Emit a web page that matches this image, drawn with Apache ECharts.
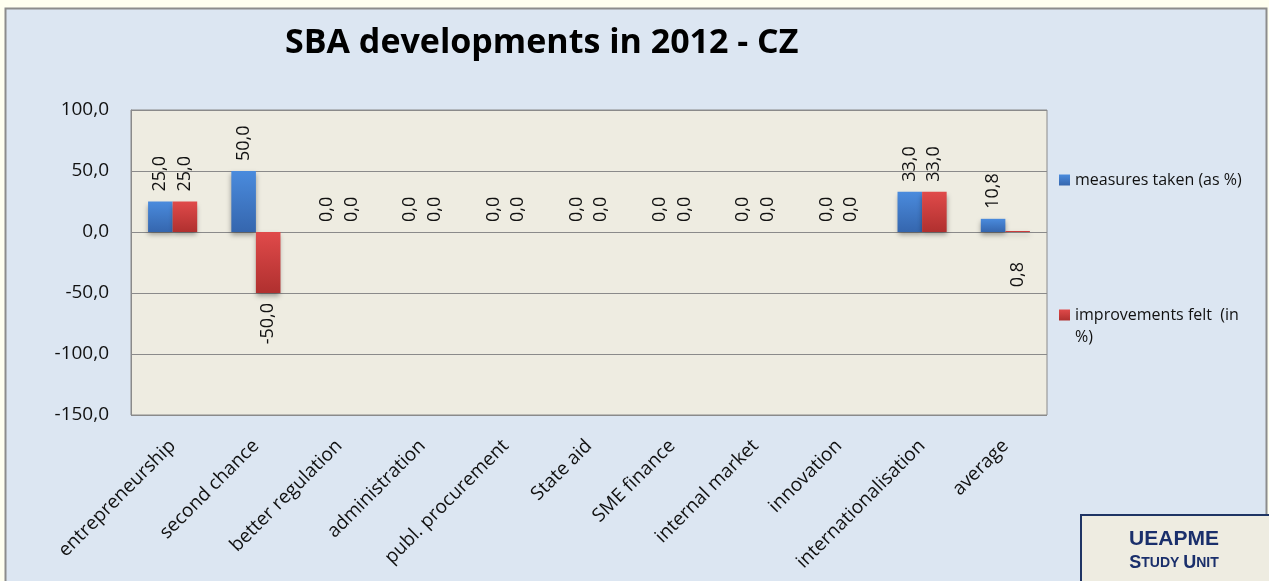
<!DOCTYPE html>
<html>
<head>
<meta charset="utf-8">
<script src="https://cdn.jsdelivr.net/npm/echarts@6/dist/echarts.min.js"></script>
<style>
  html, body { margin: 0; padding: 0; background: #FFFFF0; }
  #chart { width: 1269px; height: 581px; }
</style>
</head>
<body>
<div id="chart"></div>
<script>
const categories = [
  "entrepreneurship", "second chance", "better regulation", "administration",
  "publ. procurement", "State aid", "SME finance", "internal market",
  "innovation", "internationalisation", "average"
];
const measuresTaken = [25.0, 50.0, 0.0, 0.0, 0.0, 0.0, 0.0, 0.0, 0.0, 33.0, 10.8];
const improvementsFelt = [25.0, -50.0, 0.0, 0.0, 0.0, 0.0, 0.0, 0.0, 0.0, 33.0, 0.8];
const yTicks = { min: -150, max: 100, step: 50 };

const FONT = "Open Sans";
const fmt = (v) => v.toFixed(1).replace(".", ",");

// labels drawn under the bar (negative values, and the tiny average one like in the original)
const labelAbove = {
  show: true, position: "top", rotate: 90, distance: 10,
  align: "left", verticalAlign: "middle",
  fontFamily: FONT, fontSize: 18, color: "#111",
  formatter: (p) => fmt(p.value)
};
const labelBelow = Object.assign({}, labelAbove, { position: "bottom", align: "right" });

function buildData(values, belowIdx) {
  return values.map((v, i) => ({
    value: v,
    label: (v < 0 || belowIdx.indexOf(i) >= 0)
      ? Object.assign({}, labelBelow, { distance: v < 0 ? 10 : 30 })
      : labelAbove
  }));
}

const chart = echarts.init(document.getElementById("chart"));
const option = {
  backgroundColor: "#FFFFF0",
  animation: false,
  title: {
    text: "SBA developments in 2012 - CZ",
    left: 280,
    top: 21,
    textStyle: { fontFamily: FONT, fontSize: 34, fontWeight: "bold", color: "#000" }
  },
  legend: [
    {
      data: ["measures taken (as %)"],
      left: 1054, top: 164,
      itemWidth: 11, itemHeight: 11, icon: "rect", itemGap: 6,
      textStyle: { fontFamily: FONT, fontSize: 16, color: "#111", lineHeight: 22 }
    },
    {
      data: ["improvements felt  (in %)"],
      left: 1054, top: 277,
      itemWidth: 11, itemHeight: 11, icon: "rect",
      // blank first line keeps the icon level with the first text line
      formatter: () => "\nimprovements felt  (in\n%)",
      textStyle: { fontFamily: FONT, fontSize: 16, color: "#111", lineHeight: 22 }
    }
  ],
  grid: {
    left: 131, right: 222, top: 110, bottom: 166,
    show: true, backgroundColor: "#EEECE1", borderColor: "#8A8A8A", borderWidth: 1
  },
  xAxis: {
    type: "category",
    data: categories,
    axisLine: { show: false },
    axisTick: { show: false },
    axisLabel: {
      interval: 0, rotate: 45, margin: 28,
      fontFamily: FONT, fontSize: 19, color: "#111"
    }
  },
  yAxis: {
    type: "value",
    min: yTicks.min, max: yTicks.max, interval: yTicks.step,
    axisLine: { show: true, lineStyle: { color: "#8A8A8A" } },
    axisTick: { show: false },
    splitLine: { lineStyle: { color: "#8A8A8A", width: 1 } },
    axisLabel: { margin: 22, fontFamily: FONT, fontSize: 19, color: "#111", formatter: fmt }
  },
  series: [
    {
      name: "measures taken (as %)",
      type: "bar",
      barGap: "0%",
      barCategoryGap: "41%",
      data: buildData(measuresTaken, []),
      itemStyle: {
        color: new echarts.graphic.LinearGradient(0, 0, 0, 1, [
          { offset: 0, color: "#4A8BDD" }, { offset: 1, color: "#3566AE" }
        ]),
        shadowBlur: 5, shadowOffsetY: 3, shadowColor: "rgba(0,0,0,0.35)"
      }
    },
    {
      name: "improvements felt  (in %)",
      type: "bar",
      data: buildData(improvementsFelt, [10]),
      itemStyle: {
        color: new echarts.graphic.LinearGradient(0, 0, 0, 1, [
          { offset: 0, color: "#E04A4A" }, { offset: 1, color: "#B0302F" }
        ]),
        shadowBlur: 5, shadowOffsetY: 3, shadowColor: "rgba(0,0,0,0.35)"
      }
    }
  ],
  graphic: [
    {
      type: "rect", z: -10, silent: true,
      shape: { x: 5.5, y: 8.5, width: 1261, height: 590 },
      style: { fill: "#DCE6F2", stroke: "#8C8C8C", lineWidth: 2 }
    },
    {
      type: "rect", z: 100,
      shape: { x: 1081, y: 515, width: 190, height: 80 },
      style: { fill: "#EEECE1", stroke: "#1F3464", lineWidth: 2 }
    },
    {
      type: "text", z: 101, x: 1174, y: 539,
      style: {
        text: "UEAPME", fill: "#1A2F6B", align: "center", verticalAlign: "middle",
        font: "bold 21px 'Liberation Sans', Arial, sans-serif"
      }
    },
    {
      type: "text", z: 101, x: 1174, y: 563,
      style: {
        text: "{b|S}{s|TUDY }{b|U}{s|NIT}", align: "center", verticalAlign: "middle",
        rich: {
          b: { fill: "#1A2F6B", font: "bold 18px 'Liberation Sans', Arial, sans-serif" },
          s: { fill: "#1A2F6B", font: "bold 14px 'Liberation Sans', Arial, sans-serif" }
        }
      }
    }
  ]
};
chart.setOption(option);
</script>
</body>
</html>
